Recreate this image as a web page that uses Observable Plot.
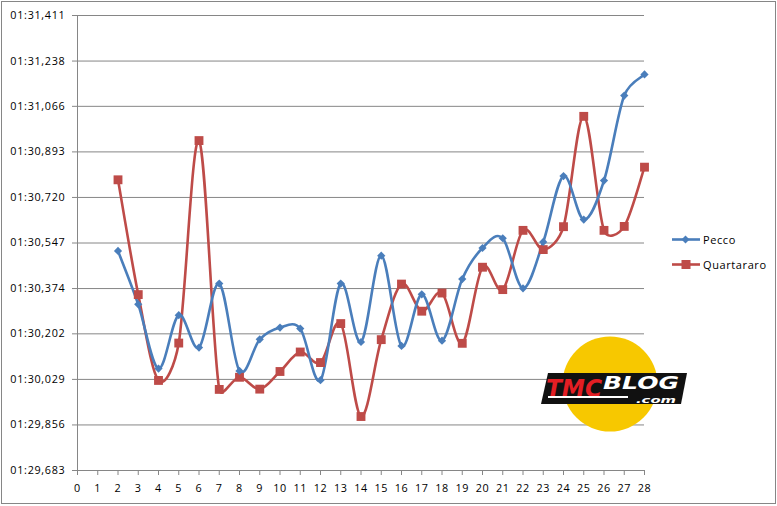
<!DOCTYPE html>
<html>
<head>
<meta charset="utf-8">
<script src="https://cdn.jsdelivr.net/npm/d3@7"></script>
<script src="https://cdn.jsdelivr.net/npm/@observablehq/plot@0.6"></script>
<style>
  body { margin: 0; background: #fff; }
  #wrap { position: relative; width: 777px; height: 506px; font-family: "Open Sans", sans-serif; }
  #border { position: absolute; left: 1px; top: 1px; width: 773px; height: 501px; border: 1px solid #868686; pointer-events: none; }
  .leg { position: absolute; left: 672px; font-size: 11px; letter-spacing: 0.6px; color: #000; display: flex; align-items: center; }
  .leg svg { margin-right: 3px; }
  #logo { position: absolute; left: 0; top: 0; }
  #chart svg text { letter-spacing: 0.7px; }
</style>
</head>
<body>
<div id="wrap">
  <div id="chart"></div>
  <div id="border"></div>
</div>
<script>
const laps = [2,3,4,5,6,7,8,9,10,11,12,13,14,15,16,17,18,19,20,21,22,23,24,25,26,27,28];
const pecco = [90.517,90.314,90.070,90.273,90.150,90.393,90.061,90.181,90.226,90.222,90.026,90.393,90.171,90.499,90.156,90.352,90.176,90.410,90.528,90.565,90.375,90.551,90.801,90.636,90.784,91.107,91.187];
const quartararo = [90.787,90.351,90.025,90.167,90.936,89.991,90.037,89.992,90.059,90.133,90.093,90.241,89.888,90.180,90.391,90.288,90.357,90.166,90.455,90.370,90.595,90.522,90.609,91.028,90.595,90.610,90.835];
const yTicks = [89.683,89.856,90.029,90.202,90.374,90.547,90.720,90.893,91.066,91.238,91.411];
const yTickLabels = ["01:29,683","01:29,856","01:30,029","01:30,202","01:30,374","01:30,547","01:30,720","01:30,893","01:31,066","01:31,238","01:31,411"];
const xTicks = d3.range(0, 29);
const seriesNames = ["Pecco", "Quartararo"];
const colors = ["#4A7EBB", "#BE4B48"];

const rows = [];
laps.forEach((l, i) => {
  rows.push({lap: l, time: pecco[i], rider: seriesNames[0]});
});
laps.forEach((l, i) => {
  rows.push({lap: l, time: quartararo[i], rider: seriesNames[1]});
});
const P = rows.filter(d => d.rider === "Pecco");
const Q = rows.filter(d => d.rider === "Quartararo");

// Excel-style smoothed line: Bezier with 1/6 tangents, limited to half the segment length
function excelCurve(context) {
  let pts = [];
  const dist = (a, b) => Math.hypot(b[0] - a[0], b[1] - a[1]);
  return {
    areaStart() {}, areaEnd() {},
    lineStart() { pts = []; },
    point(x, y) { pts.push([+x, +y]); },
    lineEnd() {
      const n = pts.length;
      if (!n) return;
      context.moveTo(pts[0][0], pts[0][1]);
      if (n === 1) return;
      for (let i = 0; i < n - 1; i++) {
        const p0 = pts[Math.max(i - 1, 0)], p1 = pts[i], p2 = pts[i + 1], p3 = pts[Math.min(i + 2, n - 1)];
        const d12 = dist(p1, p2), d02 = dist(p0, p2), d13 = dist(p1, p3);
        let f1 = 1 / 6, f2 = 1 / 6;
        if (d02 > 0 && d02 / 6 > d12 / 2) f1 = d12 / (2 * d02);
        if (d13 > 0 && d13 / 6 > d12 / 2) f2 = d12 / (2 * d13);
        const c1 = [p1[0] + f1 * (p2[0] - p0[0]), p1[1] + f1 * (p2[1] - p0[1])];
        const c2 = [p2[0] - f2 * (p3[0] - p1[0]), p2[1] - f2 * (p3[1] - p1[1])];
        context.bezierCurveTo(c1[0], c1[1], c2[0], c2[1], p2[0], p2[1]);
      }
    }
  };
}

const chart = Plot.plot({
  width: 777,
  height: 506,
  marginLeft: 77,
  marginRight: 133,
  marginTop: 15,
  marginBottom: 36,
  style: {fontFamily: "Open Sans, sans-serif", fontSize: "10.8px", color: "#000", background: "transparent", overflow: "visible"},
  x: {domain: [0, 28]},
  y: {domain: [89.683, 91.411]},
  marks: [
    Plot.gridY(yTicks, {stroke: "#868686", strokeOpacity: 1, strokeWidth: 1}),
    Plot.ruleX([0], {stroke: "#868686", strokeWidth: 1}),
    Plot.ruleY([89.683], {stroke: "#868686", strokeWidth: 1}),
    Plot.axisY({ticks: yTicks, tickFormat: d => yTickLabels[yTicks.indexOf(d)], tickSize: 5, tickPadding: 7, stroke: "#868686", label: null, fill: "#000"}),
    Plot.axisX({ticks: xTicks, tickFormat: d => String(d), tickSize: 5, tickPadding: 9, stroke: "#868686", label: null, fill: "#000"}),
    Plot.line(Q, {x: "lap", y: "time", stroke: colors[1], strokeWidth: 2.6, curve: excelCurve}),
    Plot.line(P, {x: "lap", y: "time", stroke: colors[0], strokeWidth: 2.6, curve: excelCurve}),
    Plot.dot(Q, {x: "lap", y: "time", fill: colors[1], symbol: "square", r: 5, stroke: "none"}),
    Plot.dot(P, {x: "lap", y: "time", fill: colors[0], symbol: "diamond2", r: 3.7, stroke: "none"})
  ]
});
document.getElementById("chart").appendChild(chart);

// logo watermark (decorative)
const logo = document.createElementNS("http://www.w3.org/2000/svg", "svg");
logo.setAttribute("id", "logo");
logo.setAttribute("width", 777);
logo.setAttribute("height", 506);
logo.innerHTML = `
  <circle cx="610" cy="384" r="47.5" fill="#F7C800"/>
  <polygon points="548,373 687,373 681,404 541,404" fill="#111"/>
  <text x="546" y="397" font-family="DejaVu Sans" font-weight="bold" font-style="italic" font-size="25" fill="#E31E24" textLength="56" lengthAdjust="spacingAndGlyphs">TMC</text>
  <text x="603" y="389" font-family="DejaVu Sans" font-weight="bold" font-style="italic" font-size="18" fill="#fff" textLength="76" lengthAdjust="spacingAndGlyphs">BLOG</text>
  <rect x="548" y="396" width="80" height="2" fill="#fff"/>
  <text x="636" y="403" font-family="DejaVu Sans" font-weight="bold" font-style="italic" font-size="8.5" fill="#fff" textLength="40" lengthAdjust="spacingAndGlyphs">.com</text>
`;
document.getElementById("wrap").appendChild(logo);

// legend
const wrap = document.getElementById("wrap");
seriesNames.forEach((name, i) => {
  const div = document.createElement("div");
  div.className = "leg";
  div.style.top = (i === 0 ? 232 : 257) + "px";
  const sym = i === 0
    ? `<polygon points="13.5,0.5 17.5,4.5 13.5,8.5 9.5,4.5" fill="${colors[0]}"/>`
    : `<rect x="9.5" y="0" width="9" height="9" fill="${colors[1]}"/>`;
  div.innerHTML = `<svg width="28" height="9"><line x1="0" x2="28" y1="4.5" y2="4.5" stroke="${colors[i]}" stroke-width="2.6"/>${sym}</svg><span>${name}</span>`;
  wrap.appendChild(div);
});
</script>
</body>
</html>
